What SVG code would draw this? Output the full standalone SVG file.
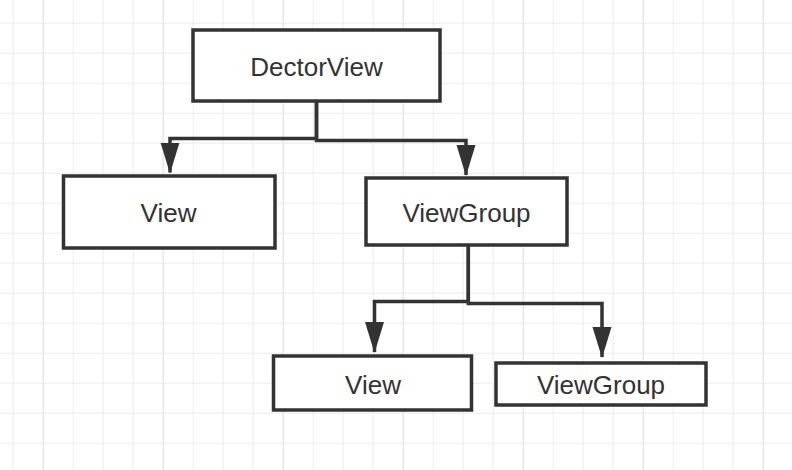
<svg xmlns="http://www.w3.org/2000/svg" width="792" height="470" viewBox="0 0 792 470">
  <defs>
    <pattern id="grid" patternUnits="userSpaceOnUse" x="12.7" y="22.7" width="30" height="30">
      <path d="M0,0 V30 M0,0 H30" fill="none" stroke="#ededed" stroke-width="2"/>
    </pattern>
    <pattern id="gridMajor" patternUnits="userSpaceOnUse" x="42.7" y="0" width="120" height="470">
      <path d="M0,0 V470" fill="none" stroke="#e6e6e6" stroke-width="2.2"/>
    </pattern>
    <marker id="arrow" markerUnits="userSpaceOnUse" viewBox="0 0 31 20" markerWidth="31" markerHeight="20" refX="30" refY="10" orient="auto">
      <path d="M0,0.5 L31,10 L0,19.5 Z" fill="#333333"/>
    </marker>
    <style>
      .box { fill: #ffffff; stroke: #333333; stroke-width: 3.5; }
      .label { font-family: "Liberation Sans", Arial, Helvetica, sans-serif; font-size: 26px; fill: #333333; text-anchor: middle; dominant-baseline: central; }
      .edge { fill: none; stroke: #333333; stroke-width: 3.5; stroke-linejoin: miter; marker-end: url(#arrow); }
    </style>
  </defs>

  <rect width="792" height="470" fill="#ffffff"/>
  <rect width="792" height="470" fill="url(#grid)"/>
  <rect width="792" height="470" fill="url(#gridMajor)"/>

  <g id="connectors">
    <path class="edge" d="M316.5,101 V138.5 H170 V172.5"/>
    <path class="edge" d="M316.5,101 V140.5 H466 V175"/>
    <path class="edge" d="M468.3,245 V301.5 H374.5 V352"/>
    <path class="edge" d="M468.3,245 V303.5 H602 V357"/>
  </g>

  <g id="node-dectorview">
    <rect class="box" x="193" y="30" width="247" height="71"/>
    <text class="label" x="316.5" y="67">DectorView</text>
  </g>

  <g id="node-view-1">
    <rect class="box" x="63.5" y="176" width="211.5" height="72"/>
    <text class="label" x="168.5" y="213">View</text>
  </g>

  <g id="node-viewgroup-1">
    <rect class="box" x="366" y="178" width="201" height="67"/>
    <text class="label" x="466.5" y="213">ViewGroup</text>
  </g>

  <g id="node-view-2">
    <rect class="box" x="273.5" y="356" width="198" height="54"/>
    <text class="label" x="373" y="385">View</text>
  </g>

  <g id="node-viewgroup-2">
    <rect class="box" x="496" y="363" width="210" height="42"/>
    <text class="label" x="601" y="385">ViewGroup</text>
  </g>
</svg>
